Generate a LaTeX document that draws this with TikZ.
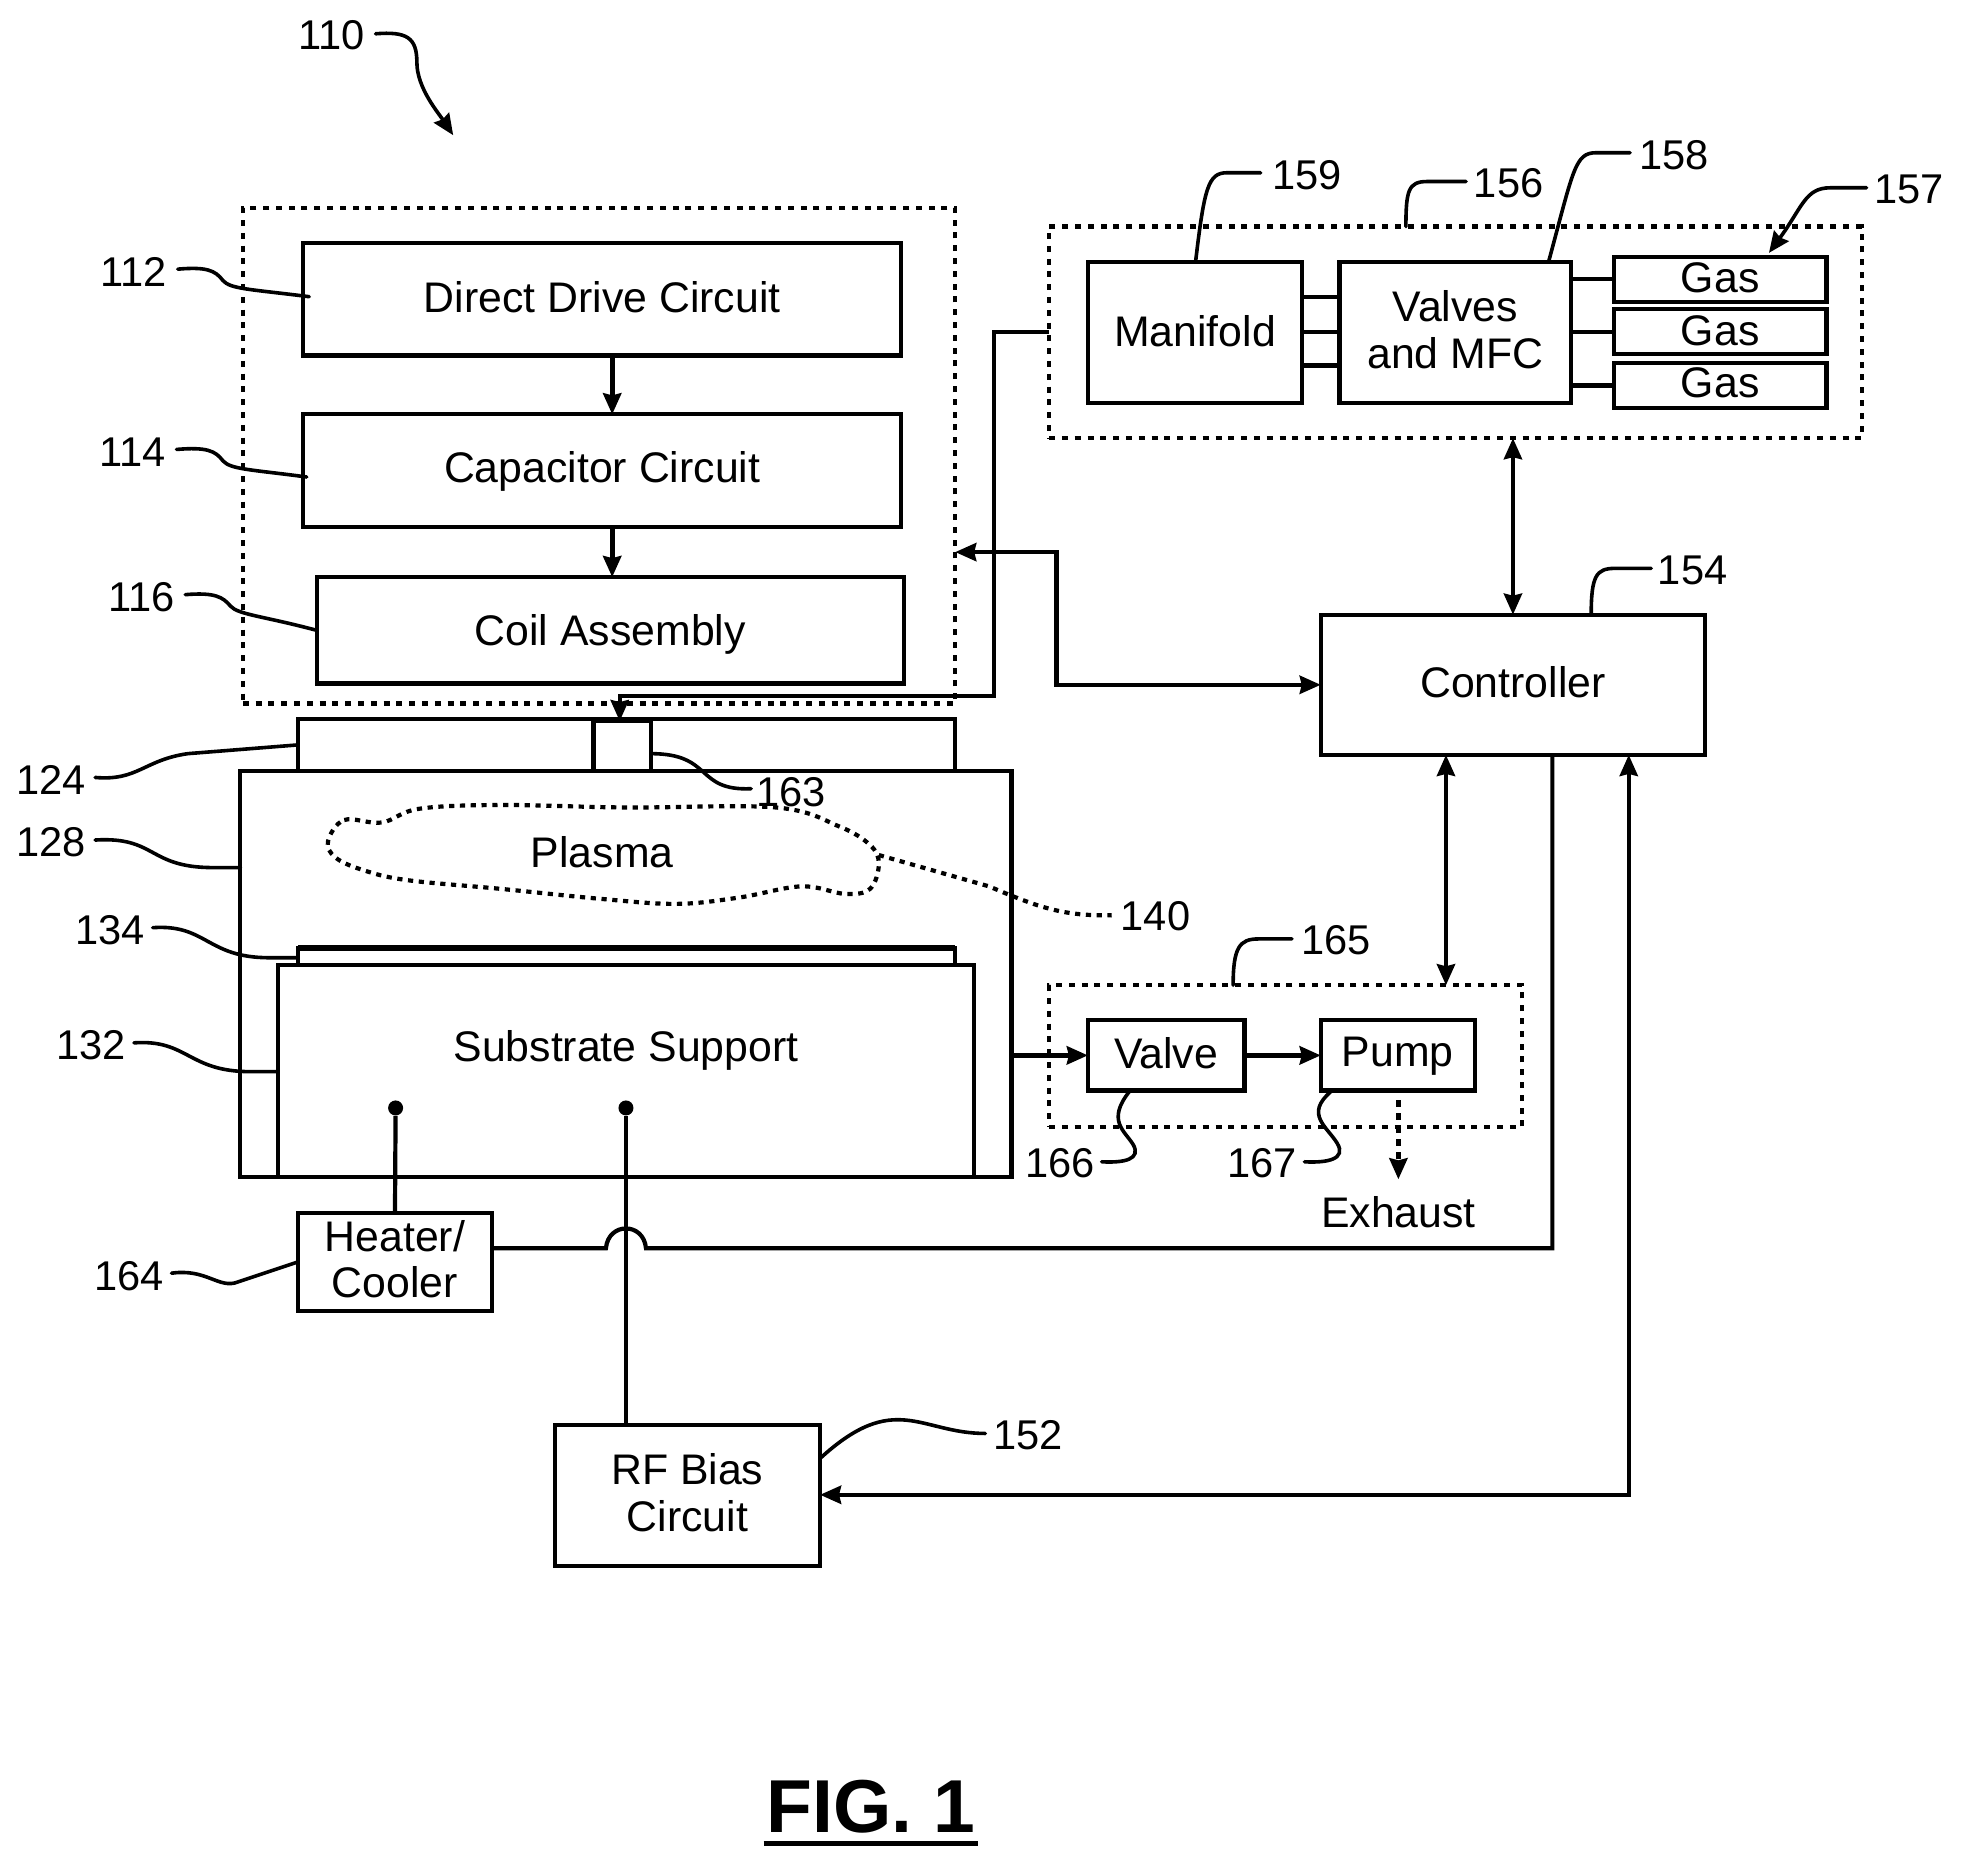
\documentclass[tikz,border=0pt]{standalone}
\usepackage{fontspec}
\setmainfont{Liberation Sans}
\usetikzlibrary{arrows.meta,calc}
\newcommand\tup[2]{\raisebox{#1}[\height][\depth]{#2}}
\tikzset{
  tipa/.tip={Stealth[length=10.5pt,width=9pt,inset=1pt]},
  spanbox/.style n args={4}{minimum width={(#3-#1)*0.626pt},minimum height={(#4-#2)*0.626pt},at={({(#1+#3)/2},{(#2+#4)/2})}},
  txt/.style={inner sep=0pt,outer sep=0pt,align=center,font=\fontsize{21.4}{23.2}\selectfont},
  num/.style={inner sep=0pt,outer sep=0pt,font=\fontsize{20.8}{23.2}\selectfont},
  box/.style={draw,line width=2.1pt,inner sep=0pt,outer sep=0pt,rectangle,align=center,font=\fontsize{21.4}{23.2}\selectfont,line join=miter},
  dashbox/.style={draw,line width=2.1pt,inner sep=0pt,outer sep=0pt,rectangle,dash pattern=on 3pt off 3.4pt},
  link/.style={line width=2.1pt},
  flow/.style={line width=2.2pt,-tipa},
  biflow/.style={line width=2.2pt,tipa-tipa},
  leader/.style={line width=1.8pt,line cap=round},
  dotted curve/.style={line width=2.1pt,dash pattern=on 2.6pt off 2.8pt},
  dotnode/.style={circle,fill=black,inner sep=0pt,minimum size=7.5pt},
}
\begin{document}
\begin{tikzpicture}[x=0.626pt,y=-0.626pt]
\fill[white] (0,0) rectangle (1568,1487.3);
\useasboundingbox (0,0) rectangle (1568,1487.3);

% dashed groups
\node[dashbox,spanbox={194}{166}{763}{562}] (srcgrp) {};
\node[dashbox,spanbox={838}{181}{1487}{350}] (gasgrp) {};
\node[dashbox,spanbox={838}{787}{1216}{900}] (exhgrp) {};

% source boxes
\node[box,spanbox={242}{194}{720}{284}] (dd) {\tup{1.25pt}{Direct Drive Circuit}};
\node[box,spanbox={242}{331}{720}{421}] (cap) {\tup{-0.6pt}{Capacitor Circuit}};
\node[box,spanbox={253}{461}{722}{546}] (coil) {\tup{-1.9pt}{Coil Assembly}};

% chamber
\node[box,spanbox={238}{574}{763}{616}] (win) {};
\node[box,spanbox={474}{576}{520}{616}] (inj) {};
\node[box,spanbox={192}{616}{808}{940}] (chamber) {};
\node[box,spanbox={238}{757}{763}{771}] (wafer) {};
\draw[line width=3pt] (wafer.north west) -- (wafer.north east);
\node[box,spanbox={222}{771}{778}{940}] (support) {};
\node[txt] (supporttext) at (500,839) {Substrate Support};
\node[txt] (plasmatext) at (481,681) {Plasma};
\draw[dotted curve]
  plot[smooth cycle,tension=0.6] coordinates {(262,672) (275,655) (305,657) (335,646) (400,643) (500,645) (620,645) (670,660) (695,675) (702,690) (695,710) (675,714) (640,708) (590,717) (540,722) (480,718) (400,710) (325,703) (290,695) (268,685)};
\node[dotnode] (hdot) at (316,885) {};
\node[dotnode] (bdot) at (500,885) {};

% lower boxes
\node[box,spanbox={238}{969}{393}{1047}] (heater) {\tup{1.25pt}{Heater/}\\\tup{1.25pt}{Cooler}};
\node[box,spanbox={443}{1138}{655}{1251}] (rf) {\tup{1.7pt}{RF Bias}\\\tup{1.3pt}{Circuit}};
\node[box,spanbox={1055}{491}{1362}{603}] (ctrl) {\tup{1.25pt}{Controller}};

% gas boxes
\node[box,spanbox={869}{209}{1040}{322}] (man) {\tup{0.6pt}{Manifold}};
\node[box,spanbox={1070}{209}{1255}{322}] (vmfc) {\tup{1.25pt}{Valves}\\\tup{1.25pt}{and MFC}};
\node[box,spanbox={1289}{205}{1459}{241}] (gas1) {\tup{0.6pt}{Gas}};
\node[box,spanbox={1289}{247}{1459}{283}] (gas2) {\tup{0.6pt}{Gas}};
\node[box,spanbox={1289}{290}{1459}{326}] (gas3) {\tup{1.25pt}{Gas}};

% exhaust boxes
\node[box,spanbox={869}{815}{994}{871}] (valve) {\tup{1.25pt}{Valve}};
\node[box,spanbox={1055}{815}{1178}{871}] (pump) {\tup{-0.6pt}{Pump}};
\node[txt] (exhaust) at (1117,968) {Exhaust};

% connectors
\coordinate (ddc) at (489,284);
\coordinate (capc) at (489,421);
\draw[flow,line width=2.6pt] (ddc) -- (ddc |- cap.north);
\draw[flow,line width=2.6pt] (capc) -- (capc |- coil.north);
\foreach \yy in {237,265,292} \draw[link] (man.east |- 0,\yy) -- (vmfc.west |- 0,\yy);
\draw[link] (vmfc.east |- gas1) -- (gas1.west);
\draw[link] (vmfc.east |- gas2) -- (gas2.west);
\draw[link] (vmfc.east |- gas3) -- (gas3.west);
\coordinate (gasleft) at (794,265);
\coordinate (injtop) at (495,556);
\draw[flow] (gasgrp.west |- gasleft) -- (gasleft) -- (gasleft |- injtop) -- (injtop) -- (injtop |- inj.north);
\draw[biflow] (gasgrp.south -| ctrl.north) -- (ctrl.north);
\coordinate (srcbus) at (844,441);
\draw[biflow] (srcgrp.east |- srcbus) -- (srcbus) -- (srcbus |- ctrl.west) -- (ctrl.west);
\coordinate (exhbus) at (1155,603);
\draw[biflow] (exhbus) -- (exhbus |- exhgrp.north);
\draw[flow,line width=2.8pt] (chamber.east |- valve) -- (valve.west);
\draw[flow,line width=2.8pt] (valve.east) -- (pump.west);
\coordinate (exstart) at (1117,879);
\coordinate (exend) at (1117,942);
\draw[flow,dash pattern=on 3.5pt off 3pt] (exstart) -- (exend);
\draw[link] (hdot) -- (heater.north);
\draw[link] (bdot) -- (bdot |- rf.north);
\coordinate (htbus) at (1240,997);
\coordinate (bumpa) at (484,997);
\coordinate (bumpb) at (516,997);
\draw[link] (heater.east |- htbus) -- (bumpa) .. controls (486,976) and (514,976) .. (bumpb) -- (htbus) -- (htbus |- ctrl.south);
\coordinate (rfbus) at (1301,1194);
\draw[biflow] (rfbus |- ctrl.south) -- (rfbus) -- (rf.east |- rfbus);

% reference numerals and leaders
\node[num] (n110) at (265,28.5) {110};
\coordinate (a110) at (362,108);
\draw[leader,-tipa] (300,27) .. controls (325,25) and (333,30) .. (333,50) .. controls (333,70) and (350,90) .. (a110);
\node[num] (n112) at (107,217) {112};
\coordinate (e112) at (247,237);
\draw[leader] (142,215) .. controls (165,213) and (172,216) .. (178,224) .. controls (184,231) and (200,231) .. (e112);
\node[num] (n114) at (106,361) {114};
\coordinate (e114) at (245,381);
\draw[leader] (141,359) .. controls (165,357) and (172,360) .. (178,368) .. controls (184,375) and (200,375) .. (e114);
\node[num] (n116) at (113,477) {116};
\draw[leader] (148,475) .. controls (172,473) and (178,477) .. (184,484) .. controls (190,491) and (210,492) .. (coil.west);
\node[num] (n124) at (41,623) {124};
\coordinate (e124) at (238,595);
\draw[leader] (76,621) .. controls (110,624) and (115,607) .. (150,602) -- (e124);
\node[num] (n128) at (41,673) {128};
\coordinate (e128) at (192,693);
\draw[leader] (76,671) .. controls (125,668) and (118,693) .. (170,693) -- (e128);
\node[num] (n134) at (88,743) {134};
\coordinate (e134) at (238,765);
\draw[leader] (122,741) .. controls (165,738) and (165,765) .. (215,765) -- (e134);
\node[num] (n132) at (73,835) {132};
\coordinate (e132) at (222,856);
\draw[leader] (107,833) .. controls (150,830) and (150,856) .. (200,856) -- (e132);
\node[num] (n164) at (103,1019) {164};
\draw[leader] (137,1017) .. controls (165,1013) and (175,1030) .. (190,1024) -- (heater.west);
\node[num] (n163) at (632,633) {163};
\coordinate (e163) at (520,602);
\draw[leader] (600,630) .. controls (555,632) and (570,602) .. (e163);
\node[num] (n140) at (923,732) {140};
\coordinate (s140) at (702,683);
\draw[dotted curve] (s140) -- (790,708) .. controls (830,725) and (850,732) .. (888,731);
\node[num] (n165) at (1067,751) {165};
\coordinate (e165) at (985,787);
\draw[leader] (1032,750) -- (1005,750) .. controls (990,750) and (985,757) .. (e165);
\node[num] (n166) at (847,929) {166};
\coordinate (e166) at (902,872);
\draw[leader] (880,928) .. controls (898,929) and (912,926) .. (905,914) .. controls (898,903) and (884,895) .. (e166);
\node[num] (n167) at (1008,929) {167};
\coordinate (e167) at (1063,872);
\draw[leader] (1042,928) .. controls (1060,929) and (1076,926) .. (1068,913) .. controls (1060,900) and (1042,890) .. (e167);
\node[num] (n152) at (821,1146) {152};
\coordinate (e152) at (655,1165);
\draw[leader] (787,1145) .. controls (735,1145) and (715,1110) .. (e152);
\node[num] (n154) at (1352,456) {154};
\coordinate (e154) at (1271,491);
\draw[leader] (1319,454) -- (1290,454) .. controls (1275,454) and (1271,460) .. (e154);
\node[num] (n156) at (1205,146) {156};
\coordinate (e156) at (1123,181);
\draw[leader] (1171,145) -- (1140,145) .. controls (1125,145) and (1123,152) .. (e156);
\node[num] (n159) at (1044,140) {159};
\coordinate (e159) at (955,209);
\draw[leader] (1007,138) -- (980,138) .. controls (965,138) and (962,150) .. (e159);
\node[num] (n158) at (1337,124) {158};
\coordinate (e158) at (1237,209);
\draw[leader] (1302,122) -- (1275,122) .. controls (1258,122) and (1257,135) .. (e158);
\node[num] (n157) at (1525,151) {157};
\coordinate (e157) at (1413,202);
\draw[leader,-tipa] (1491,150) -- (1462,150) .. controls (1442,150) and (1440,165) .. (e157);

% figure title
\node[inner sep=0pt,font=\fontsize{37.5}{40}\selectfont\bfseries] (fig) at (695.5,1443) {FIG. 1};
\draw[line width=2.6pt] ($(fig.south west)+(-2,8)$) -- ($(fig.south east)+(2,8)$);
\end{tikzpicture}
\end{document}
